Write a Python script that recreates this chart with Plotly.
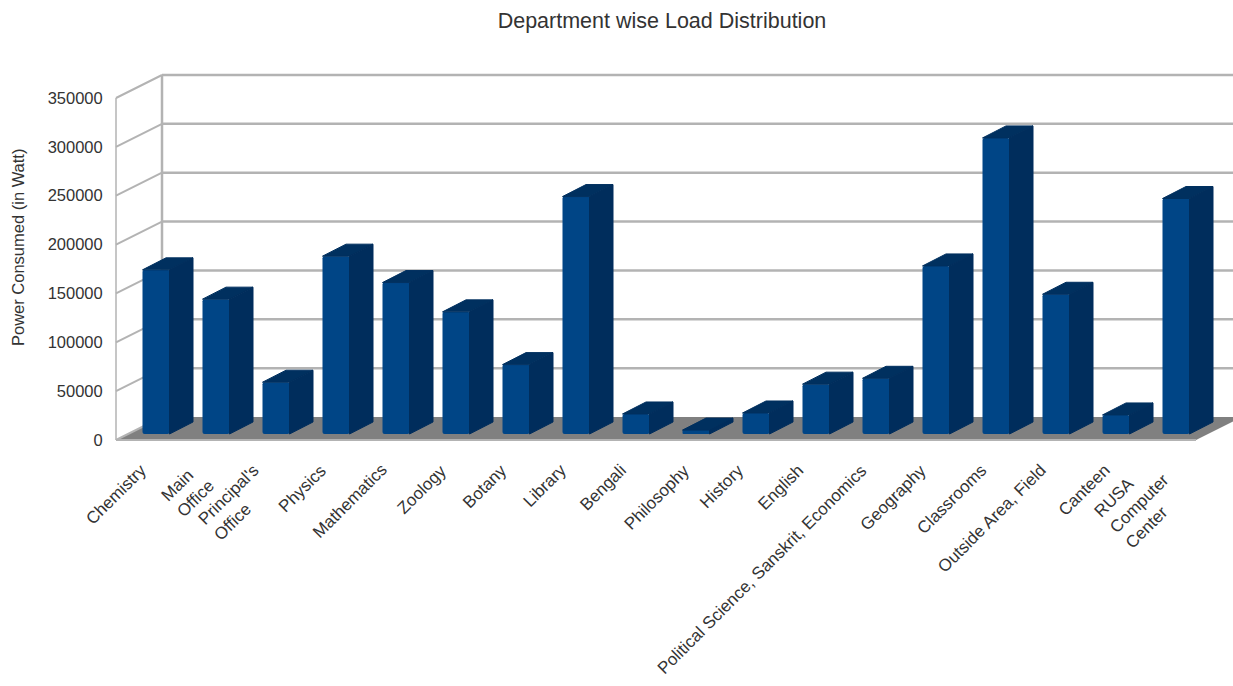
import plotly.graph_objects as go

categories = ["Chemistry", "Main<br>Office", "Principal's<br>Office", "Physics", "Mathematics", "Zoology",
              "Botany", "Library", "Bengali", "Philosophy", "History", "English",
              "Political Science, Sanskrit, Economics", "Geography", "Classrooms", "Outside Area, Field",
              "Canteen", "RUSA<br>Computer<br>Center"]
power_watt = [168000, 138000, 53000, 182000, 155000, 125000, 71000, 243000, 20500, 4000, 21500, 51000,
              57000, 172000, 303000, 143000, 19500, 241000]
y_ticks = [0, 50000, 100000, 150000, 200000, 250000, 300000, 350000]
title_text = "Department wise Load Distribution"
y_title = "Power Consumed (in Watt)"

W, H = 1233, 686
X0_PX, SLOT_PX = 116, 60
Y0_PX, YTOP_PX = 440, 98
WATT_PER_PX = 350000 / (Y0_PX - YTOP_PX)
n = len(categories)

# oblique projection of the depth axis, in data units
wall_dx, wall_dy = 46 / SLOT_PX, 23 * WATT_PER_PX
bar_shift_x, bar_shift_y = 10 / SLOT_PX, 6 * WATT_PER_PX
bar_dx, bar_dy = 23.5 / SLOT_PX, 12 * WATT_PER_PX
bar_w = 27 / SLOT_PX

x_range = [-X0_PX / SLOT_PX, (W - X0_PX) / SLOT_PX]
y_range = [-(H - Y0_PX) * WATT_PER_PX, Y0_PX * WATT_PER_PX]

FRONT, SIDE, TOP = "#004586", "#002d5c", "#00305f"
GRID, FLOOR = "#b3b3b3", "#808080"
TEXT = "#333333"

centers = [i + 0.5 + bar_shift_x for i in range(n)]
fig = go.Figure()

# front faces
fig.add_trace(go.Bar(x=centers, y=power_watt, base=bar_shift_y, width=bar_w,
                     marker=dict(color=FRONT, line=dict(width=0), cornerradius=2),
                     showlegend=False, hoverinfo="skip"))

# side and top faces follow from the same values
for c, v in zip(centers, power_watt):
    l, r = c - bar_w / 2, c + bar_w / 2
    lo, hi = bar_shift_y, bar_shift_y + v
    fig.add_trace(go.Scatter(x=[l, l + bar_dx, r + bar_dx, r, l], y=[hi, hi + bar_dy, hi + bar_dy, hi, hi],
                             mode="lines", fill="toself", fillcolor=TOP,
                             line=dict(color=TOP, width=1), showlegend=False, hoverinfo="skip"))
    fig.add_trace(go.Scatter(x=[r, r + bar_dx, r + bar_dx, r, r], y=[lo, lo + bar_dy, hi + bar_dy, hi, lo],
                             mode="lines", fill="toself", fillcolor=SIDE,
                             line=dict(color=SIDE, width=1), showlegend=False, hoverinfo="skip"))

shapes = []
def seg(x0, y0, x1, y1, w):
    shapes.append(dict(type="line", x0=x0, y0=y0, x1=x1, y1=y1, xref="x", yref="y", layer="below",
                       line=dict(color=GRID, width=w)))

# floor
shapes.append(dict(type="path", layer="below", xref="x", yref="y", fillcolor=FLOOR, line=dict(width=0),
                   path=f"M 0 0 L {n} 0 L {x_range[1]} {wall_dy * (x_range[1] - n) / wall_dx} "
                        f"L {x_range[1]} {wall_dy} L {wall_dx} {wall_dy} Z"))
# walls
seg(0, 0, 0, y_ticks[-1], 1.5)
seg(wall_dx, wall_dy, wall_dx, y_ticks[-1] + wall_dy, 2.5)
for t in y_ticks:
    seg(0, t, wall_dx, t + wall_dy, 2)
    if t > 0:
        seg(wall_dx, t + wall_dy, x_range[1], t + wall_dy, 2.5)
seg(0, 0, n, 0, 2)

# category labels
annotations = []
label_y = -18 * WATT_PER_PX
label_xshift = {1: 8, 2: 8, 9: 3, 10: -3, 11: -3, 16: 3, 17: 18}
label_yshift = {17: 6}
for i, c in enumerate(categories):
    annotations.append(dict(x=i + 0.5, y=label_y, xref="x", yref="y", text=c, showarrow=False,
                            textangle=-45, align="left", xanchor="right", yanchor="top",
                            xshift=7 + label_xshift.get(i, 0), yshift=label_yshift.get(i, 0),
                            font=dict(family="Liberation Sans", size=17, color=TEXT)))
annotations.append(dict(x=18 / W, y=1 - 248 / H, xref="paper", yref="paper", text=y_title, showarrow=False,
                        textangle=-90, xanchor="center", yanchor="middle",
                        font=dict(family="Liberation Sans", size=16.5, color=TEXT)))

fig.update_layout(
    width=W, height=H, autosize=False, margin=dict(l=0, r=0, t=0, b=0),
    paper_bgcolor="white", plot_bgcolor="white", showlegend=False, barmode="overlay",
    title=dict(text=title_text, x=662 / W, y=1 - 20 / H, xanchor="center", yanchor="middle",
               font=dict(family="Liberation Sans", size=21.5, color=TEXT)),
    font=dict(family="Liberation Sans", color=TEXT),
    shapes=shapes, annotations=annotations,
    xaxis=dict(range=x_range, domain=[0, 1], visible=False, fixedrange=True),
    yaxis=dict(range=y_range, domain=[0, 1], anchor="free", position=X0_PX / W,
               tickmode="array", tickvals=y_ticks, ticktext=[str(t) for t in y_ticks],
               ticks="outside", ticklen=10, tickcolor="rgba(0,0,0,0)", showgrid=False, zeroline=False,
               showline=False, tickfont=dict(size=16.5, color=TEXT)),
)
fig.write_html("out.html", config=dict(displayModeBar=False),
               post_script="document.documentElement.style.margin='0';document.body.style.margin='0';")
